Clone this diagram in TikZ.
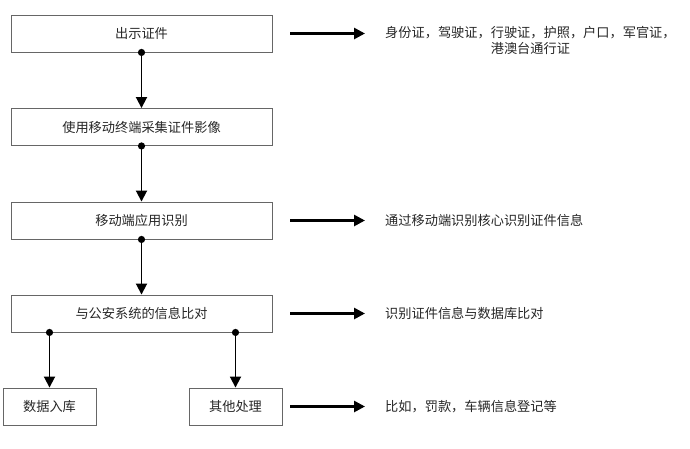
\documentclass[tikz,border=0pt]{standalone}
\usepackage{fontspec}
\setmainfont{Noto Sans CJK SC}
\usetikzlibrary{arrows.meta}
\begin{document}
\begin{tikzpicture}[x=1pt,y=-1pt,
  box/.style={draw=black!60, line width=0.9pt, inner sep=0pt, minimum height=37pt,
    font=\fontsize{13.2}{15}\selectfont, text=black!85},
  wide/.style={box, minimum width=261pt},
  small/.style={box, minimum width=93pt},
  note/.style={anchor=west, inner sep=0pt, align=center,
    font=\fontsize{13.2}{16}\selectfont, text=black!85},
  flow/.style={line width=1.8pt, -{Triangle[length=11pt,width=11pt]}},
  rarrow/.style={line width=2.6pt, -{Triangle[length=11pt,width=11pt]}},
  dotc/.style={fill=black}
]
\useasboundingbox (0,0) rectangle (690,448);

\node[wide] (b1) at (141.5,33.5) {出示证件};
\node[wide] (b2) at (141.5,127) {使用移动终端采集证件影像};
\node[wide] (b3) at (141.5,220.5) {移动端应用识别};
\node[wide] (b4) at (141.5,313.5) {与公安系统的信息比对};
\node[small] (b5) at (49.5,406.5) {数据入库};
\node[small] (b6) at (235.5,406.5) {其他处理};

\node[note] (t1) at (385,40.5) {身份证，驾驶证，行驶证，护照，户口，军官证，\\港澳台通行证};
\node[note] (t3) at (385,220.5) {通过移动端识别核心识别证件信息};
\node[note] (t4) at (385,313.5) {识别证件信息与数据库比对};
\node[note] (t6) at (385,406.5) {比如，罚款，车辆信息登记等};

% vertical flow
\draw[flow] (b1.south) -- (b2.north);
\fill[dotc] (b1.south) circle (3.6pt);
\draw[flow] (b2.south) -- (b3.north);
\fill[dotc] (b2.south) circle (3.6pt);
\draw[flow] (b3.south) -- (b4.north);
\fill[dotc] (b3.south) circle (3.6pt);

\coordinate (d5) at (b4.south -| b5.north);
\coordinate (d6) at (b4.south -| b6.north);
\draw[flow] (d5) -- (b5.north);
\fill[dotc] (d5) circle (3.6pt);
\draw[flow] (d6) -- (b6.north);
\fill[dotc] (d6) circle (3.6pt);

% side arrows
\coordinate (s1) at (290,33.5);
\coordinate (e1) at (365,33.5);
\draw[rarrow] (s1) -- (e1);
\draw[rarrow] (b3.east -| s1) -- (b3.east -| e1);
\draw[rarrow] (b4.east -| s1) -- (b4.east -| e1);
\draw[rarrow] (b6.east -| s1) -- (b6.east -| e1);
\end{tikzpicture}
\end{document}
